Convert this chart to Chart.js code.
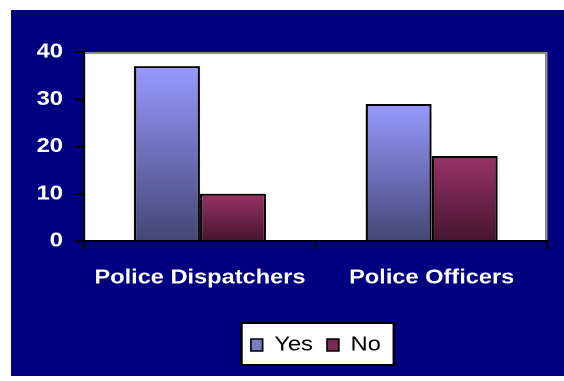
<!DOCTYPE html>
<html>
<head>
<meta charset="utf-8">
<script src="https://cdn.jsdelivr.net/npm/chart.js@4/dist/chart.umd.min.js"></script>
<style>
  html, body { margin: 0; padding: 0; background: #fff; }
  /* chart is laid out narrow and stretched sideways, like the wide Excel export */
  #wrap {
    position: absolute; left: 11px; top: 10px;
    width: 469px; height: 366px;
    transform: scaleX(1.1791); transform-origin: 0 0;
  }
</style>
</head>
<body>
<div id="wrap"><canvas id="surveyChart"></canvas></div>
<script>
const categories = ['Police Dispatchers', 'Police Officers'];
const seriesNames = ['Yes', 'No'];
const yesValues = [37, 29];
const noValues = [10, 18];
const yTicks = [0, 10, 20, 30, 40];

const FONT = 'Liberation Sans, Arial, sans-serif';

// vertical shading on each bar, light at the top, dark at the base
function barFill(topColor, bottomColor) {
    return (c) => {
        const chart = c.chart;
        const y = chart.scales.y;
        if (!chart.chartArea || !y || c.raw === undefined) return topColor;
        const g = chart.ctx.createLinearGradient(0, y.getPixelForValue(c.raw), 0, y.getPixelForValue(0));
        g.addColorStop(0, topColor);
        g.addColorStop(1, bottomColor);
        return g;
    };
}

const swatches = ['#7c7cc4', '#7a2a52'];

const backdrop = {
    id: 'backdrop',
    beforeDraw(chart) {
        const {ctx, chartArea: a, legend} = chart;
        ctx.save();
        ctx.fillStyle = '#000080';
        ctx.fillRect(0, 0, chart.width, chart.height);

        ctx.fillStyle = '#fff';
        ctx.fillRect(a.left, a.top, a.right - a.left, a.bottom - a.top);
        ctx.strokeStyle = '#8a8a8a';
        ctx.lineWidth = 2;
        ctx.beginPath();
        ctx.moveTo(a.left, a.top + 1);
        ctx.lineTo(a.right - 1, a.top + 1);
        ctx.lineTo(a.right - 1, a.bottom);
        ctx.stroke();

        // white framed box behind the legend items
        const boxes = legend.legendHitBoxes;
        if (boxes && boxes.length) {
            const first = boxes[0], last = boxes[boxes.length - 1];
            const x0 = first.left - 8;
            const x1 = last.left + last.width + 11;
            ctx.fillStyle = '#fff';
            ctx.fillRect(x0, legend.top, x1 - x0, legend.bottom - legend.top);
            ctx.strokeStyle = '#000';
            ctx.lineWidth = 2;
            ctx.strokeRect(x0, legend.top, x1 - x0, legend.bottom - legend.top);
        }
        ctx.restore();
    }
};

const config = {
    type: 'bar',
    data: {
        labels: categories,
        datasets: [
            {
                label: seriesNames[0],
                data: yesValues,
                backgroundColor: barFill('#9999ff', '#434675'),
                borderColor: '#000',
                borderWidth: 2,
            },
            {
                label: seriesNames[1],
                data: noValues,
                backgroundColor: barFill('#993366', '#461530'),
                borderColor: '#000',
                borderWidth: 2,
            }
        ]
    },
    plugins: [backdrop],
    options: {
        responsive: true,
        maintainAspectRatio: false,
        animation: false,
        devicePixelRatio: 2,
        layout: { padding: { left: 10, right: 14, top: 42, bottom: 11 } },
        datasets: {
            bar: { categoryPercentage: 0.57, barPercentage: 1 }
        },
        scales: {
            x: {
                afterFit: (scale) => { scale.height = 82; },
                grid: {
                    offset: true,
                    drawOnChartArea: false,
                    tickLength: 8,
                    color: '#000',
                    lineWidth: 1.6,
                },
                border: { color: '#000', width: 2 },
                ticks: {
                    color: '#fff',
                    padding: 17,
                    font: { family: FONT, size: 20, weight: 'bold' },
                },
            },
            y: {
                min: 0,
                max: 40,
                afterFit: (scale) => { scale.width = 52; },
                afterBuildTicks: (scale) => { scale.ticks = yTicks.map(v => ({value: v})); },
                grid: {
                    drawOnChartArea: false,
                    tickLength: 8,
                    color: '#000',
                    lineWidth: 2,
                },
                border: { color: '#000', width: 2 },
                ticks: {
                    color: '#fff',
                    padding: 10,
                    font: { family: FONT, size: 20, weight: 'bold' },
                },
            }
        },
        plugins: {
            tooltip: { enabled: false },
            legend: {
                position: 'bottom',
                fullSize: false,
                labels: {
                    boxWidth: 10,
                    boxHeight: 12,
                    padding: 12,
                    color: '#000',
                    font: { family: FONT, size: 20 },
                    generateLabels: (chart) => chart.data.datasets.map((ds, i) => ({
                        text: ds.label,
                        fillStyle: swatches[i],
                        strokeStyle: '#000',
                        lineWidth: 1.5,
                        hidden: false,
                        datasetIndex: i,
                    })),
                },
            },
        },
    },
};

const ctx = document.getElementById('surveyChart').getContext('2d');
const chart = new Chart(ctx, config);
</script>
</body>
</html>
